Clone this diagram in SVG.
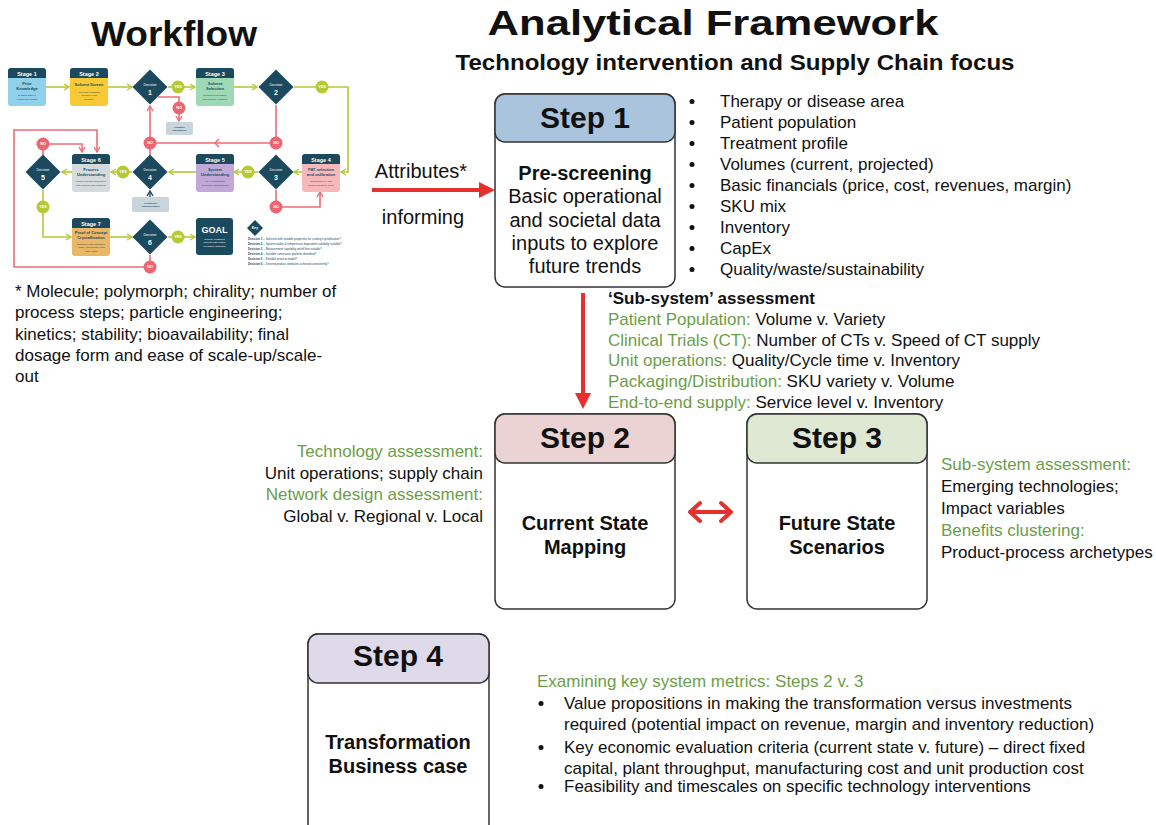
<svg xmlns="http://www.w3.org/2000/svg" width="1156" height="825" viewBox="0 0 1156 825">
<style>
text{font-family:"Liberation Sans",Arial,sans-serif}
.title{font-weight:bold;font-size:35px;fill:#111;text-anchor:middle}
.sub{font-weight:bold;font-size:22px;fill:#111;text-anchor:middle}
.t17{font-size:17px;fill:#111}
.t20{font-size:20px;fill:#111;text-anchor:middle}
.b20{font-size:20px;font-weight:bold;fill:#111;text-anchor:middle}
.step{font-size:30px;font-weight:bold;fill:#111;text-anchor:middle}
.gr{fill:#6b9e48}
.box{fill:#fff;stroke:#333;stroke-width:1.5}
.hdr{stroke:#333;stroke-width:1.5}
.wfh{font-size:5.5px;font-weight:bold;fill:#fff;text-anchor:middle}
.wft{font-size:4px;font-weight:bold;fill:#1b4a5e;text-anchor:middle}
.wfs{font-size:2.5px;fill:#1b4a5e;text-anchor:middle}
.dia{fill:#1b4a5e}
.dtx{font-size:3.4px;fill:#fff;text-anchor:middle}
.dnum{font-size:7px;font-weight:bold;fill:#fff;text-anchor:middle}
.yes{fill:#b5c935}
.no{fill:#ee6471}
.yn{font-size:3.8px;font-weight:bold;fill:#fff;text-anchor:middle}
.g{stroke:#b5c93a;stroke-width:1.6;fill:none}
.r{stroke:#ef6b77;stroke-width:1.6;fill:none}
.key{font-size:2.9px;fill:#1b4a5e}
.hd{fill:#1b4a5e}
.red{stroke:#e5302e;stroke-width:4;fill:none}
</style>
<defs>
<marker id="ag" markerUnits="userSpaceOnUse" markerWidth="8" markerHeight="8" viewBox="0 0 8 8" refX="7" refY="4" orient="auto"><path d="M2,1 L7,4 L2,7" fill="none" stroke="#b5c93a" stroke-width="1.4"/></marker>
<marker id="ar" markerUnits="userSpaceOnUse" markerWidth="8" markerHeight="8" viewBox="0 0 8 8" refX="7" refY="4" orient="auto"><path d="M2,1 L7,4 L2,7" fill="none" stroke="#ef6b77" stroke-width="1.4"/></marker>
<marker id="ad" markerUnits="userSpaceOnUse" markerWidth="8" markerHeight="8" viewBox="0 0 8 8" refX="7" refY="4" orient="auto"><path d="M2,1 L7,4 L2,7" fill="none" stroke="#1b4a5e" stroke-width="1.4"/></marker>
</defs>
<rect width="1156" height="825" fill="#fff"/>

<!-- titles -->
<text class="title" x="174" y="46" textLength="166" lengthAdjust="spacingAndGlyphs">Workflow</text>
<text class="title" x="713" y="35" textLength="451" lengthAdjust="spacingAndGlyphs">Analytical Framework</text>
<text class="sub" x="735" y="70" textLength="559" lengthAdjust="spacingAndGlyphs">Technology intervention and Supply Chain focus</text>

<!-- workflow connectors -->
<g id="wf-connectors">
<path class="g" d="M46,87 H69" marker-end="url(#ag)"/>
<path class="g" d="M108,87 H132" marker-end="url(#ag)"/>
<path class="g" d="M168,87 H195" marker-end="url(#ag)"/>
<path class="g" d="M234,87 H257" marker-end="url(#ag)"/>
<path class="g" d="M294,87 H348 V172 H341" marker-end="url(#ag)"/>
<path class="g" d="M302,172 H294" marker-end="url(#ag)"/>
<path class="g" d="M258,172 H234" marker-end="url(#ag)"/>
<path class="g" d="M196,172 H169" marker-end="url(#ag)"/>
<path class="g" d="M132,172 H111" marker-end="url(#ag)"/>
<path class="g" d="M72,172 H62" marker-end="url(#ag)"/>
<path class="g" d="M43,190 V237 H71" marker-end="url(#ag)"/>
<path class="g" d="M110,237 H132" marker-end="url(#ag)"/>
<path class="g" d="M168,237 H195" marker-end="url(#ag)"/>
<path class="r" d="M158,97 H179 V121" marker-end="url(#ar)"/>
<path class="r" d="M276,105 V143 H150 V106" marker-end="url(#ar)"/>
<path class="r" d="M150,155 V143"/>
<path class="r" d="M219,139 L215,143 L219,147"/>
<path class="r" d="M276,190 V207 H320 V192" marker-end="url(#ar)"/>
<path class="r" d="M43,155 V144 H82 V152" marker-end="url(#ar)"/>
<path class="r" d="M150,255 V267 H14 V130 H97 V152" marker-end="url(#ar)"/>
<path d="M150,197 V191" stroke="#1b4a5e" stroke-width="1.4" fill="none" marker-end="url(#ad)"/>
</g>

<!-- workflow stages -->
<g id="wf-stage1">
<rect x="8" y="68" width="38" height="38" rx="3" fill="#8fd0ea"/>
<path class="hd" d="M8,78 V71 Q8,68 11,68 H43 Q46,68 46,71 V78 Z"/>
<text class="wfh" x="27" y="75.5">Stage 1</text>
<text class="wft" x="27" y="85">Prior</text>
<text class="wft" x="27" y="89.5">Knowledge</text>
<text class="wfs" x="27" y="96">Existing data on</text>
<text class="wfs" x="27" y="99.5">compound collated</text>
</g>
<g id="wf-stage2">
<rect x="70" y="68" width="38" height="38" rx="3" fill="#f7c934"/>
<path class="hd" d="M70,78 V71 Q70,68 73,68 H105 Q108,68 108,71 V78 Z"/>
<text class="wfh" x="89" y="75.5">Stage 2</text>
<text class="wft" x="89" y="86">Solvent Screen</text>
<text class="wfs" x="89" y="92.5">Solvents classified</text>
<text class="wfs" x="89" y="96">as high or low</text>
<text class="wfs" x="89" y="99.5">solubility</text>
</g>
<g id="wf-stage3">
<rect x="196" y="68" width="38" height="38" rx="3" fill="#9ed8b4"/>
<path class="hd" d="M196,78 V71 Q196,68 199,68 H231 Q234,68 234,71 V78 Z"/>
<text class="wfh" x="215" y="75.5">Stage 3</text>
<text class="wft" x="215" y="85">Solvent</text>
<text class="wft" x="215" y="89.5">Selection</text>
<text class="wfs" x="215" y="96">Detailed temperature</text>
<text class="wfs" x="215" y="99.5">dependence &amp; stability</text>
</g>
<g id="wf-stage4">
<rect x="302" y="154" width="38" height="38" rx="3" fill="#f7b8bc"/>
<path class="hd" d="M302,164 V157 Q302,154 305,154 H337 Q340,154 340,157 V164 Z"/>
<text class="wfh" x="321" y="161.5">Stage 4</text>
<text class="wft" x="321" y="171">PAT selection</text>
<text class="wft" x="321" y="175.5">and calibration</text>
<text class="wfs" x="321" y="182">Calibrated PAT and</text>
<text class="wfs" x="321" y="185.5">detailed solubility curve</text>
</g>
<g id="wf-stage5">
<rect x="196" y="154" width="38" height="38" rx="3" fill="#c0a9d6"/>
<path class="hd" d="M196,164 V157 Q196,154 199,154 H231 Q234,154 234,157 V164 Z"/>
<text class="wfh" x="215" y="161.5">Stage 5</text>
<text class="wft" x="215" y="171">System</text>
<text class="wft" x="215" y="175.5">Understanding</text>
<text class="wfs" x="215" y="182">Key crystallisation</text>
<text class="wfs" x="215" y="185.5">behaviour and attributes</text>
</g>
<g id="wf-stage6">
<rect x="72" y="154" width="38" height="38" rx="3" fill="#d5dadd"/>
<path class="hd" d="M72,164 V157 Q72,154 75,154 H107 Q110,154 110,157 V164 Z"/>
<text class="wfh" x="91" y="161.5">Stage 6</text>
<text class="wft" x="91" y="171">Process</text>
<text class="wft" x="91" y="175.5">Understanding</text>
<text class="wfs" x="91" y="182">Kinetic process parameters,</text>
<text class="wfs" x="91" y="185.5">first principle and empirical</text>
</g>
<g id="wf-stage7">
<rect x="72" y="218" width="38" height="38" rx="3" fill="#e9b765"/>
<path class="hd" d="M72,228 V221 Q72,218 75,218 H107 Q110,218 110,221 V228 Z"/>
<text class="wfh" x="91" y="225.5">Stage 7</text>
<text class="wft" x="91" y="234">Proof of Concept</text>
<text class="wft" x="91" y="238.5">Crystallisation</text>
<text class="wfs" x="91" y="244.5">Desired crystal attributes</text>
<text class="wfs" x="91" y="248">– purity, polymorphic form,</text>
<text class="wfs" x="91" y="251.5">CSD, habit</text>
</g>
<g id="wf-goal">
<rect x="196" y="218" width="37" height="37" rx="3" fill="#1b4a5e"/>
<text x="214.5" y="233" style="font-size:9px;font-weight:bold;fill:#fff;text-anchor:middle">GOAL</text>
<text class="wfs" style="fill:#fff" x="214.5" y="239.5">Robust, consistent</text>
<text class="wfs" style="fill:#fff" x="214.5" y="243">process with control</text>
<text class="wfs" style="fill:#fff" x="214.5" y="246.5">of particle attributes</text>
</g>
<g id="wf-alt">
<rect x="166" y="122" width="27" height="13" rx="1.5" fill="#c8d5dd"/>
<text class="wfs" style="font-weight:bold" x="179.5" y="127.5">Consider</text>
<text class="wfs" style="font-weight:bold" x="179.5" y="131">alternatives</text>
</g>
<g id="wf-cryst">
<rect x="132" y="197" width="37" height="15" rx="1.5" fill="#c8d5dd"/>
<text class="wfs" style="font-weight:bold" x="150.5" y="203.5">Crystalliser</text>
<text class="wfs" style="font-weight:bold" x="150.5" y="207">Characteristics</text>
</g>

<!-- decisions -->
<g id="wf-d1"><polygon class="dia" points="150,69.5 167.5,87 150,104.5 132.5,87"/><text class="dtx" x="150" y="86">Decision</text><text class="dnum" x="150" y="95">1</text></g>
<g id="wf-d2"><polygon class="dia" points="276,69.5 293.5,87 276,104.5 258.5,87"/><text class="dtx" x="276" y="86">Decision</text><text class="dnum" x="276" y="95">2</text></g>
<g id="wf-d3"><polygon class="dia" points="276,154.5 293.5,172 276,189.5 258.5,172"/><text class="dtx" x="276" y="171">Decision</text><text class="dnum" x="276" y="180">3</text></g>
<g id="wf-d4"><polygon class="dia" points="150,154.5 167.5,172 150,189.5 132.5,172"/><text class="dtx" x="150" y="171">Decision</text><text class="dnum" x="150" y="180">4</text></g>
<g id="wf-d5"><polygon class="dia" points="43,154.5 60.5,172 43,189.5 25.5,172"/><text class="dtx" x="43" y="171">Decision</text><text class="dnum" x="43" y="180">5</text></g>
<g id="wf-d6"><polygon class="dia" points="150,219.5 167.5,237 150,254.5 132.5,237"/><text class="dtx" x="150" y="236">Decision</text><text class="dnum" x="150" y="245">6</text></g>

<!-- yes / no -->
<g id="wf-yn">
<circle class="yes" cx="178" cy="87" r="6.5"/><text class="yn" x="178" y="88.4">YES</text>
<circle class="yes" cx="322" cy="87" r="6.5"/><text class="yn" x="322" y="88.4">YES</text>
<circle class="yes" cx="248" cy="172" r="6.5"/><text class="yn" x="248" y="173.4">YES</text>
<circle class="yes" cx="123" cy="172" r="6.5"/><text class="yn" x="123" y="173.4">YES</text>
<circle class="yes" cx="43" cy="207" r="6.5"/><text class="yn" x="43" y="208.4">YES</text>
<circle class="yes" cx="178" cy="237" r="6.5"/><text class="yn" x="178" y="238.4">YES</text>
<circle class="no" cx="179" cy="108" r="6.5"/><text class="yn" x="179" y="109.4">NO</text>
<circle class="no" cx="276" cy="143" r="6.5"/><text class="yn" x="276" y="144.4">NO</text>
<circle class="no" cx="150" cy="143" r="6.5"/><text class="yn" x="150" y="144.4">NO</text>
<circle class="no" cx="276" cy="207" r="6.5"/><text class="yn" x="276" y="208.4">NO</text>
<circle class="no" cx="43" cy="144" r="6.5"/><text class="yn" x="43" y="145.4">NO</text>
<circle class="no" cx="150" cy="267" r="6.5"/><text class="yn" x="150" y="268.4">NO</text>
</g>

<!-- key -->
<g id="wf-key">
<polygon class="dia" points="255,220 263,228 255,236 247,228"/>
<text x="255" y="229.3" style="font-size:3.5px;font-weight:bold;fill:#fff;text-anchor:middle">Key</text>
<text class="key" x="248" y="240"><tspan font-weight="bold">Decision 1</tspan> – Solvents with suitable properties for cooling crystallisation?</text>
<text class="key" x="248" y="245"><tspan font-weight="bold">Decision 2</tspan> – System stable &amp; temperature dependent solubility suitable?</text>
<text class="key" x="248" y="250"><tspan font-weight="bold">Decision 3</tspan> – Measurement capability on/off line suitable?</text>
<text class="key" x="248" y="255"><tspan font-weight="bold">Decision 4</tspan> – Suitable continuous platform identified?</text>
<text class="key" x="248" y="260"><tspan font-weight="bold">Decision 5</tspan> – Reliable process model?</text>
<text class="key" x="248" y="265"><tspan font-weight="bold">Decision 6</tspan> – Desired product attributes achieved consistently?</text>
</g>

<!-- footnote -->
<g id="footnote">
<text class="t17" x="15" y="297">* Molecule; polymorph; chirality; number of</text>
<text class="t17" x="15" y="318">process steps; particle engineering;</text>
<text class="t17" x="15" y="340">kinetics; stability; bioavailability; final</text>
<text class="t17" x="15" y="361">dosage form and ease of scale-up/scale-</text>
<text class="t17" x="15" y="382">out</text>
</g>

<!-- main connectors -->
<g id="connectors">
<line class="red" x1="372" y1="190" x2="482" y2="190"/>
<polygon points="479,182 495,190 479,198" fill="#e5302e"/>
<line class="red" x1="583" y1="293" x2="583" y2="396"/>
<polygon points="575,393 583,409 591,393" fill="#e5302e"/>
<line class="red" x1="691" y1="512" x2="730" y2="512"/>
<polyline class="red" points="700,503 690,512 700,521" stroke-linecap="round" stroke-linejoin="round"/>
<polyline class="red" points="721,503 731,512 721,521" stroke-linecap="round" stroke-linejoin="round"/>
</g>
<text class="t20" x="421" y="178">Attributes*</text>
<text class="t20" x="423" y="224">informing</text>

<!-- Step 1 -->
<g id="step1">
<rect class="box" x="495" y="94" width="180" height="193" rx="10"/>
<rect class="hdr" x="495" y="94" width="180" height="48" rx="10" fill="#aac4de"/>
<text class="step" x="585" y="128">Step 1</text>
<text class="b20" x="585" y="180">Pre-screening</text>
<text class="t20" x="585" y="203">Basic operational</text>
<text class="t20" x="585" y="227">and societal data</text>
<text class="t20" x="585" y="250">inputs to explore</text>
<text class="t20" x="585" y="273">future trends</text>
</g>
<g id="step1-list">
<g fill="#111"><circle cx="692" cy="101.5" r="2.5"/><circle cx="692" cy="122.5" r="2.5"/><circle cx="692" cy="143.5" r="2.5"/><circle cx="692" cy="164.5" r="2.5"/><circle cx="692" cy="185.5" r="2.5"/><circle cx="692" cy="206.5" r="2.5"/><circle cx="692" cy="227.5" r="2.5"/><circle cx="692" cy="248.5" r="2.5"/><circle cx="692" cy="269.5" r="2.5"/></g>
<text class="t17" x="720" y="107">Therapy or disease area</text>
<text class="t17" x="720" y="128">Patient population</text>
<text class="t17" x="720" y="149">Treatment profile</text>
<text class="t17" x="720" y="170">Volumes (current, projected)</text>
<text class="t17" x="720" y="191">Basic financials (price, cost, revenues, margin)</text>
<text class="t17" x="720" y="212">SKU mix</text>
<text class="t17" x="720" y="233">Inventory</text>
<text class="t17" x="720" y="254">CapEx</text>
<text class="t17" x="720" y="275">Quality/waste/sustainability</text>
</g>

<!-- sub-system -->
<g id="subsystem">
<text class="t17" x="608" y="304" font-weight="bold">‘Sub-system’ assessment</text>
<text class="t17" x="608" y="325"><tspan class="gr">Patient Population:</tspan> Volume v. Variety</text>
<text class="t17" x="608" y="346"><tspan class="gr">Clinical Trials (CT):</tspan> Number of CTs v. Speed of CT supply</text>
<text class="t17" x="608" y="366"><tspan class="gr">Unit operations:</tspan> Quality/Cycle time v. Inventory</text>
<text class="t17" x="608" y="387"><tspan class="gr">Packaging/Distribution:</tspan> SKU variety v. Volume</text>
<text class="t17" x="608" y="408"><tspan class="gr">End-to-end supply:</tspan> Service level v. Inventory</text>
</g>

<!-- Step 2 -->
<g id="step2">
<rect class="box" x="495" y="414" width="180" height="195" rx="10"/>
<rect class="hdr" x="495" y="414" width="180" height="49" rx="10" fill="#ecd3d3"/>
<text class="step" x="585" y="448">Step 2</text>
<text class="b20" x="585" y="530">Current State</text>
<text class="b20" x="585" y="554">Mapping</text>
</g>
<g id="step2-notes" text-anchor="end">
<text class="t17 gr" x="483" y="457">Technology assessment:</text>
<text class="t17" x="483" y="479">Unit operations; supply chain</text>
<text class="t17 gr" x="483" y="500">Network design assessment:</text>
<text class="t17" x="483" y="522">Global v. Regional v. Local</text>
</g>

<!-- Step 3 -->
<g id="step3">
<rect class="box" x="747" y="414" width="180" height="195" rx="10"/>
<rect class="hdr" x="747" y="414" width="180" height="49" rx="10" fill="#dfe8d3"/>
<text class="step" x="837" y="448">Step 3</text>
<text class="b20" x="837" y="530">Future State</text>
<text class="b20" x="837" y="554">Scenarios</text>
</g>
<g id="step3-notes">
<text class="t17 gr" x="941" y="470">Sub-system assessment:</text>
<text class="t17" x="941" y="492">Emerging technologies;</text>
<text class="t17" x="941" y="514">Impact variables</text>
<text class="t17 gr" x="941" y="536">Benefits clustering:</text>
<text class="t17" x="941" y="558">Product-process archetypes</text>
</g>

<!-- Step 4 -->
<g id="step4">
<rect class="box" x="308" y="634" width="181" height="215" rx="10"/>
<rect class="hdr" x="308" y="634" width="181" height="49" rx="10" fill="#dedae9"/>
<text class="step" x="398" y="666">Step 4</text>
<text class="b20" x="398" y="749">Transformation</text>
<text class="b20" x="398" y="773">Business case</text>
</g>
<g id="step4-notes">
<text class="t17 gr" x="537" y="687">Examining key system metrics: Steps 2 v. 3</text>
<g fill="#111"><circle cx="541" cy="703.5" r="2.5"/><circle cx="541" cy="747.5" r="2.5"/><circle cx="541" cy="786.5" r="2.5"/></g>
<text class="t17" x="564" y="709">Value propositions in making the transformation versus investments</text>
<text class="t17" x="564" y="730">required (potential impact on revenue, margin and inventory reduction)</text>
<text class="t17" x="564" y="753">Key economic evaluation criteria (current state v. future) – direct fixed</text>
<text class="t17" x="564" y="774">capital, plant throughput, manufacturing cost and unit production cost</text>
<text class="t17" x="564" y="792">Feasibility and timescales on specific technology interventions</text>
</g>
</svg>
